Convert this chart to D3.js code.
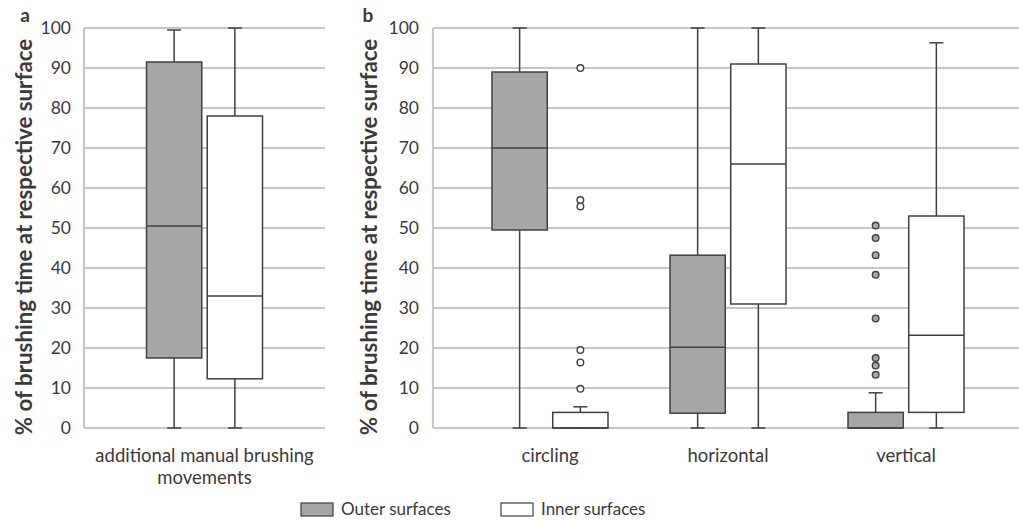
<!DOCTYPE html>
<html>
<head>
<meta charset="utf-8">
<script src="https://cdn.jsdelivr.net/npm/d3@7"></script>
<style>
  body { margin: 0; background: #fff; }
  text { font-family: Lato, "Open Sans", sans-serif; fill: #3a3a3a; }
</style>
</head>
<body>
<div class="chart"></div>
<script>
// chart size
var svgWidth = 1019;
var svgHeight = 520;

// data: each box is [min, q1, median, q3, max]
var seriesNames = ["Outer surfaces", "Inner surfaces"];
var catsA = ["additional manual brushing movements"];
var catsB = ["circling", "horizontal", "vertical"];
var yTicks = [0, 10, 20, 30, 40, 50, 60, 70, 80, 90, 100];

var outerA = [[0, 17.5, 50.5, 91.5, 99.5]];
var innerA = [[0, 12.3, 33, 78, 100]];

var outerB = [[0, 49.5, 70, 89, 100], [0, 3.7, 20.2, 43.2, 100], [0, 0, 0, 3.9, 8.8]];
var innerB = [[0, 0, 0, 3.9, 5.3], [0, 31, 66, 91, 100], [0, 3.9, 23.2, 53, 96.3]];

var outerOutliersB = [[], [], [50.6, 47.5, 43.2, 38.3, 27.4, 17.5, 15.6, 13.3]];
var innerOutliersB = [[90, 57, 55.4, 19.5, 16.4, 9.8], [], []];

var fills = ["#a6a6a6", "#ffffff"];
var strokeCol = "#404040";
var gridCol = "#c6c6c6";

var svg = d3.select(".chart")
  .append("svg")
  .attr("width", svgWidth)
  .attr("height", svgHeight);

var y = d3.scaleLinear().domain([0, 100]).range([428, 28]);

// draw one panel
function drawPanel(opts) {
  var g = svg.append("g");

  // gridlines
  g.selectAll("line.grid")
    .data(yTicks)
    .enter()
    .append("line")
    .attr("x1", opts.plotX[0])
    .attr("x2", opts.plotX[1])
    .attr("y1", d => y(d))
    .attr("y2", d => y(d))
    .attr("stroke", gridCol)
    .attr("stroke-width", 2.2);

  // left axis line
  g.append("line")
    .attr("x1", opts.plotX[0]).attr("x2", opts.plotX[0])
    .attr("y1", y(100)).attr("y2", y(0))
    .attr("stroke", gridCol)
    .attr("stroke-width", 2.2);

  // tick labels
  var yAxis = d3.axisLeft(y).tickValues(yTicks).tickSize(0).tickPadding(0);
  var ax = g.append("g")
    .attr("transform", `translate(${opts.tickX}, 0)`)
    .call(yAxis);
  ax.select(".domain").remove();
  ax.selectAll("text")
    .style("font-family", "Lato, sans-serif")
    .style("font-size", "17.5px")
    .attr("fill", "#3a3a3a");

  // y title
  g.append("text")
    .attr("transform", `translate(${opts.titleX}, 237) rotate(-90)`)
    .attr("text-anchor", "middle")
    .style("font-size", "22.3px")
    .style("font-weight", "bold")
    .attr("fill", "#222")
    .text("% of brushing time at respective surface");

  // panel letter
  g.append("text")
    .attr("x", opts.letterX)
    .attr("y", 22)
    .attr("text-anchor", "middle")
    .style("font-size", "19px")
    .style("font-weight", "bold")
    .attr("fill", "#222")
    .text(opts.letter);

  var x0 = d3.scaleBand().domain(opts.cats).range(opts.bandX);
  var x1 = d3.scaleBand().domain(seriesNames).range([0, 116]).paddingInner(0.09);
  var off = (x0.bandwidth() - 116) / 2;

  opts.cats.forEach(function(cat, ci) {
    var stats = [opts.outer[ci], opts.inner[ci]];
    var outl = [opts.outerOut[ci], opts.innerOut[ci]];
    seriesNames.forEach(function(s, si) {
      var d = stats[si];
      var left = x0(cat) + off + x1(s);
      var w = x1.bandwidth();
      var cx = left + w / 2;
      var capW = 14;

      // whiskers
      g.append("line")
        .attr("x1", cx).attr("x2", cx)
        .attr("y1", y(d[0])).attr("y2", y(d[4]))
        .attr("stroke", strokeCol).attr("stroke-width", 1.5);
      [d[0], d[4]].forEach(function(v) {
        g.append("line")
          .attr("x1", cx - capW / 2).attr("x2", cx + capW / 2)
          .attr("y1", y(v)).attr("y2", y(v))
          .attr("stroke", strokeCol).attr("stroke-width", 1.5);
      });

      // box
      g.append("rect")
        .attr("x", left)
        .attr("y", y(d[3]))
        .attr("width", w)
        .attr("height", y(d[1]) - y(d[3]))
        .attr("fill", fills[si])
        .attr("stroke", strokeCol)
        .attr("stroke-width", 1.5);

      // median
      g.append("line")
        .attr("x1", left).attr("x2", left + w)
        .attr("y1", y(d[2])).attr("y2", y(d[2]))
        .attr("stroke", strokeCol).attr("stroke-width", 1.5);

      // outliers
      g.selectAll(null)
        .data(outl[si])
        .enter()
        .append("circle")
        .attr("cx", cx)
        .attr("cy", v => y(v))
        .attr("r", 3.3)
        .attr("fill", si === 0 ? "#a6a6a6" : "#fff")
        .attr("stroke", strokeCol)
        .attr("stroke-width", 1.4);
    });

    // category label (may wrap on two lines)
    var lines = opts.labelLines ? opts.labelLines[ci] : [cat];
    var lab = g.append("text")
      .attr("text-anchor", "middle")
      .style("font-size", "18.5px");
    lines.forEach(function(l, li) {
      lab.append("tspan")
        .attr("x", x0(cat) + x0.bandwidth() / 2)
        .attr("y", 462 + li * 22)
        .text(l);
    });
  });
}

drawPanel({
  cats: catsA,
  labelLines: [["additional manual brushing", "movements"]],
  outer: outerA, inner: innerA,
  outerOut: [[]], innerOut: [[]],
  plotX: [84, 325], bandX: [84, 325],
  tickX: 71, titleX: 32, letterX: 25, letter: "a"
});

drawPanel({
  cats: catsB,
  outer: outerB, inner: innerB,
  outerOut: outerOutliersB, innerOut: innerOutliersB,
  plotX: [433, 1019], bandX: [461, 995],
  tickX: 419, titleX: 377, letterX: 368, letter: "b"
});

// legend
var legend = svg.append("g");
var legendX = [301, 501];
seriesNames.forEach(function(s, i) {
  legend.append("rect")
    .attr("x", legendX[i]).attr("y", 503)
    .attr("width", 32).attr("height", 13)
    .attr("fill", fills[i])
    .attr("stroke", strokeCol)
    .attr("stroke-width", 1.2);
  legend.append("text")
    .attr("x", legendX[i] + 40)
    .attr("y", 515)
    .style("font-size", "17px")
    .text(s);
});
</script>
</body>
</html>
